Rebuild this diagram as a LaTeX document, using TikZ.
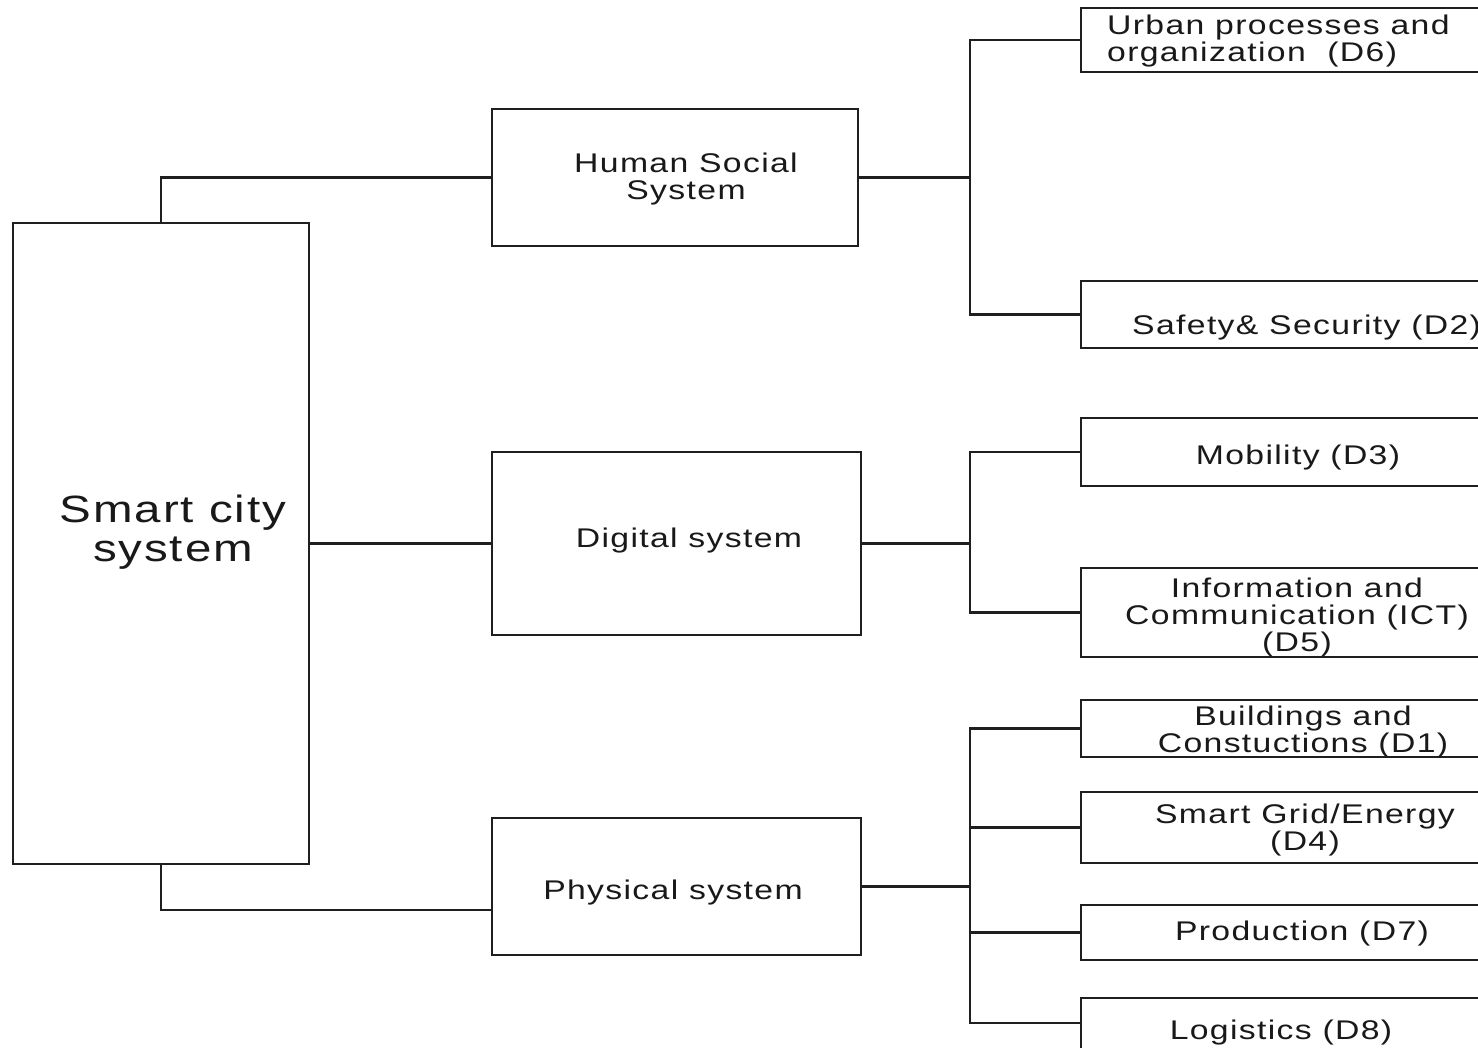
\documentclass[tikz,border=0pt]{standalone}
\usepackage{fontspec}
\setmainfont{Liberation Sans}[FakeStretch=1.25, LetterSpace=5]
\begin{document}
\begin{tikzpicture}[x=1pt, y=-1pt,
  box/.style={draw=black!88, line width=2.5pt, rectangle, inner sep=0pt},
  wire/.style={draw=black!88, line width=2.5pt},
  lab/.style={text=black!90, inner sep=0pt, align=center, yshift=-2.5pt, font=\fontsize{27}{27}\selectfont},
  biglab/.style={text=black!90, inner sep=0pt, align=center, font=\fontsize{38}{39}\selectfont}]
\useasboundingbox (0,0) rectangle (1478,1047);
\clip (0,0) rectangle (1478,1047);
\fill[white] (0,0) rectangle (1478,1047);

% root and first level
\node[box, minimum width=296pt, minimum height=641pt] (city) at (161,543.5) {};
\node[box, minimum width=366pt, minimum height=137pt] (hss) at (675,177.5) {};
\node[box, minimum width=369pt, minimum height=183pt] (dig) at (676.5,543.5) {};
\node[box, minimum width=369pt, minimum height=137pt] (phy) at (676.5,886.5) {};

% second level (right edges run past the frame)
\node[box, minimum width=439pt, minimum height=64pt]  (d6) at (1300.5,40) {};
\node[box, minimum width=439pt, minimum height=67pt]  (d2) at (1300.5,314.5) {};
\node[box, minimum width=439pt, minimum height=68pt]  (d3) at (1300.5,452) {};
\node[box, minimum width=439pt, minimum height=89pt]  (d5) at (1300.5,612.5) {};
\node[box, minimum width=439pt, minimum height=57pt]  (d1) at (1300.5,728.5) {};
\node[box, minimum width=439pt, minimum height=71pt]  (d4) at (1300.5,827.5) {};
\node[box, minimum width=439pt, minimum height=55pt]  (d7) at (1300.5,932.5) {};
\node[box, minimum width=439pt, minimum height=102pt] (d8) at (1300.5,1049) {};

% labels
\node[biglab] (tcity) at (173,532) {Smart city\\system};
\node[lab] (thss) at (686,177) {Human Social\\System};
\node[lab] (tdig) at (689,538) {Digital system};
\node[lab] (tphy) at (673,890) {Physical system};
\node[lab, anchor=west, align=left] (td6) at (1107,39) {Urban processes and\\organization~ (D6)};
\node[lab, anchor=west] (td2) at (1132,325) {Safety\& Security (D2)};
\node[lab] (td3) at (1298,455) {Mobility (D3)};
\node[lab] (td5) at (1297,615) {Information and\\Communication (ICT)\\(D5)};
\node[lab] (td1) at (1303,730) {Buildings and\\Constuctions (D1)};
\node[lab] (td4) at (1305,828) {Smart Grid/Energy\\(D4)};
\node[lab] (td7) at (1302,931) {Production (D7)};
\node[lab] (td8) at (1281,1030) {Logistics (D8)};

% root to first level
\draw[wire] (city.north) |- (hss.west);
\draw[wire] (city.east) -- (dig.west);
\draw[wire] (city.south) |- ([yshift=-23.5pt]phy.west);

% first level to second level
\coordinate (b1) at (970,177.5);
\coordinate (b2) at (970,543.5);
\coordinate (b3) at (970,886.5);
\draw[wire] (hss.east) -- (b1);
\draw[wire] (b1) |- (d6.west);
\draw[wire] (b1) |- (d2.west);
\draw[wire] (dig.east) -- (b2);
\draw[wire] (b2) |- (d3.west);
\draw[wire] (b2) |- (d5.west);
\draw[wire] (phy.east) -- (b3);
\draw[wire] (b3) |- (d1.west);
\draw[wire] (b3) |- (d4.west);
\draw[wire] (b3) |- (d7.west);
\draw[wire] (b3) |- ([yshift=26pt]d8.west);
\end{tikzpicture}
\end{document}
